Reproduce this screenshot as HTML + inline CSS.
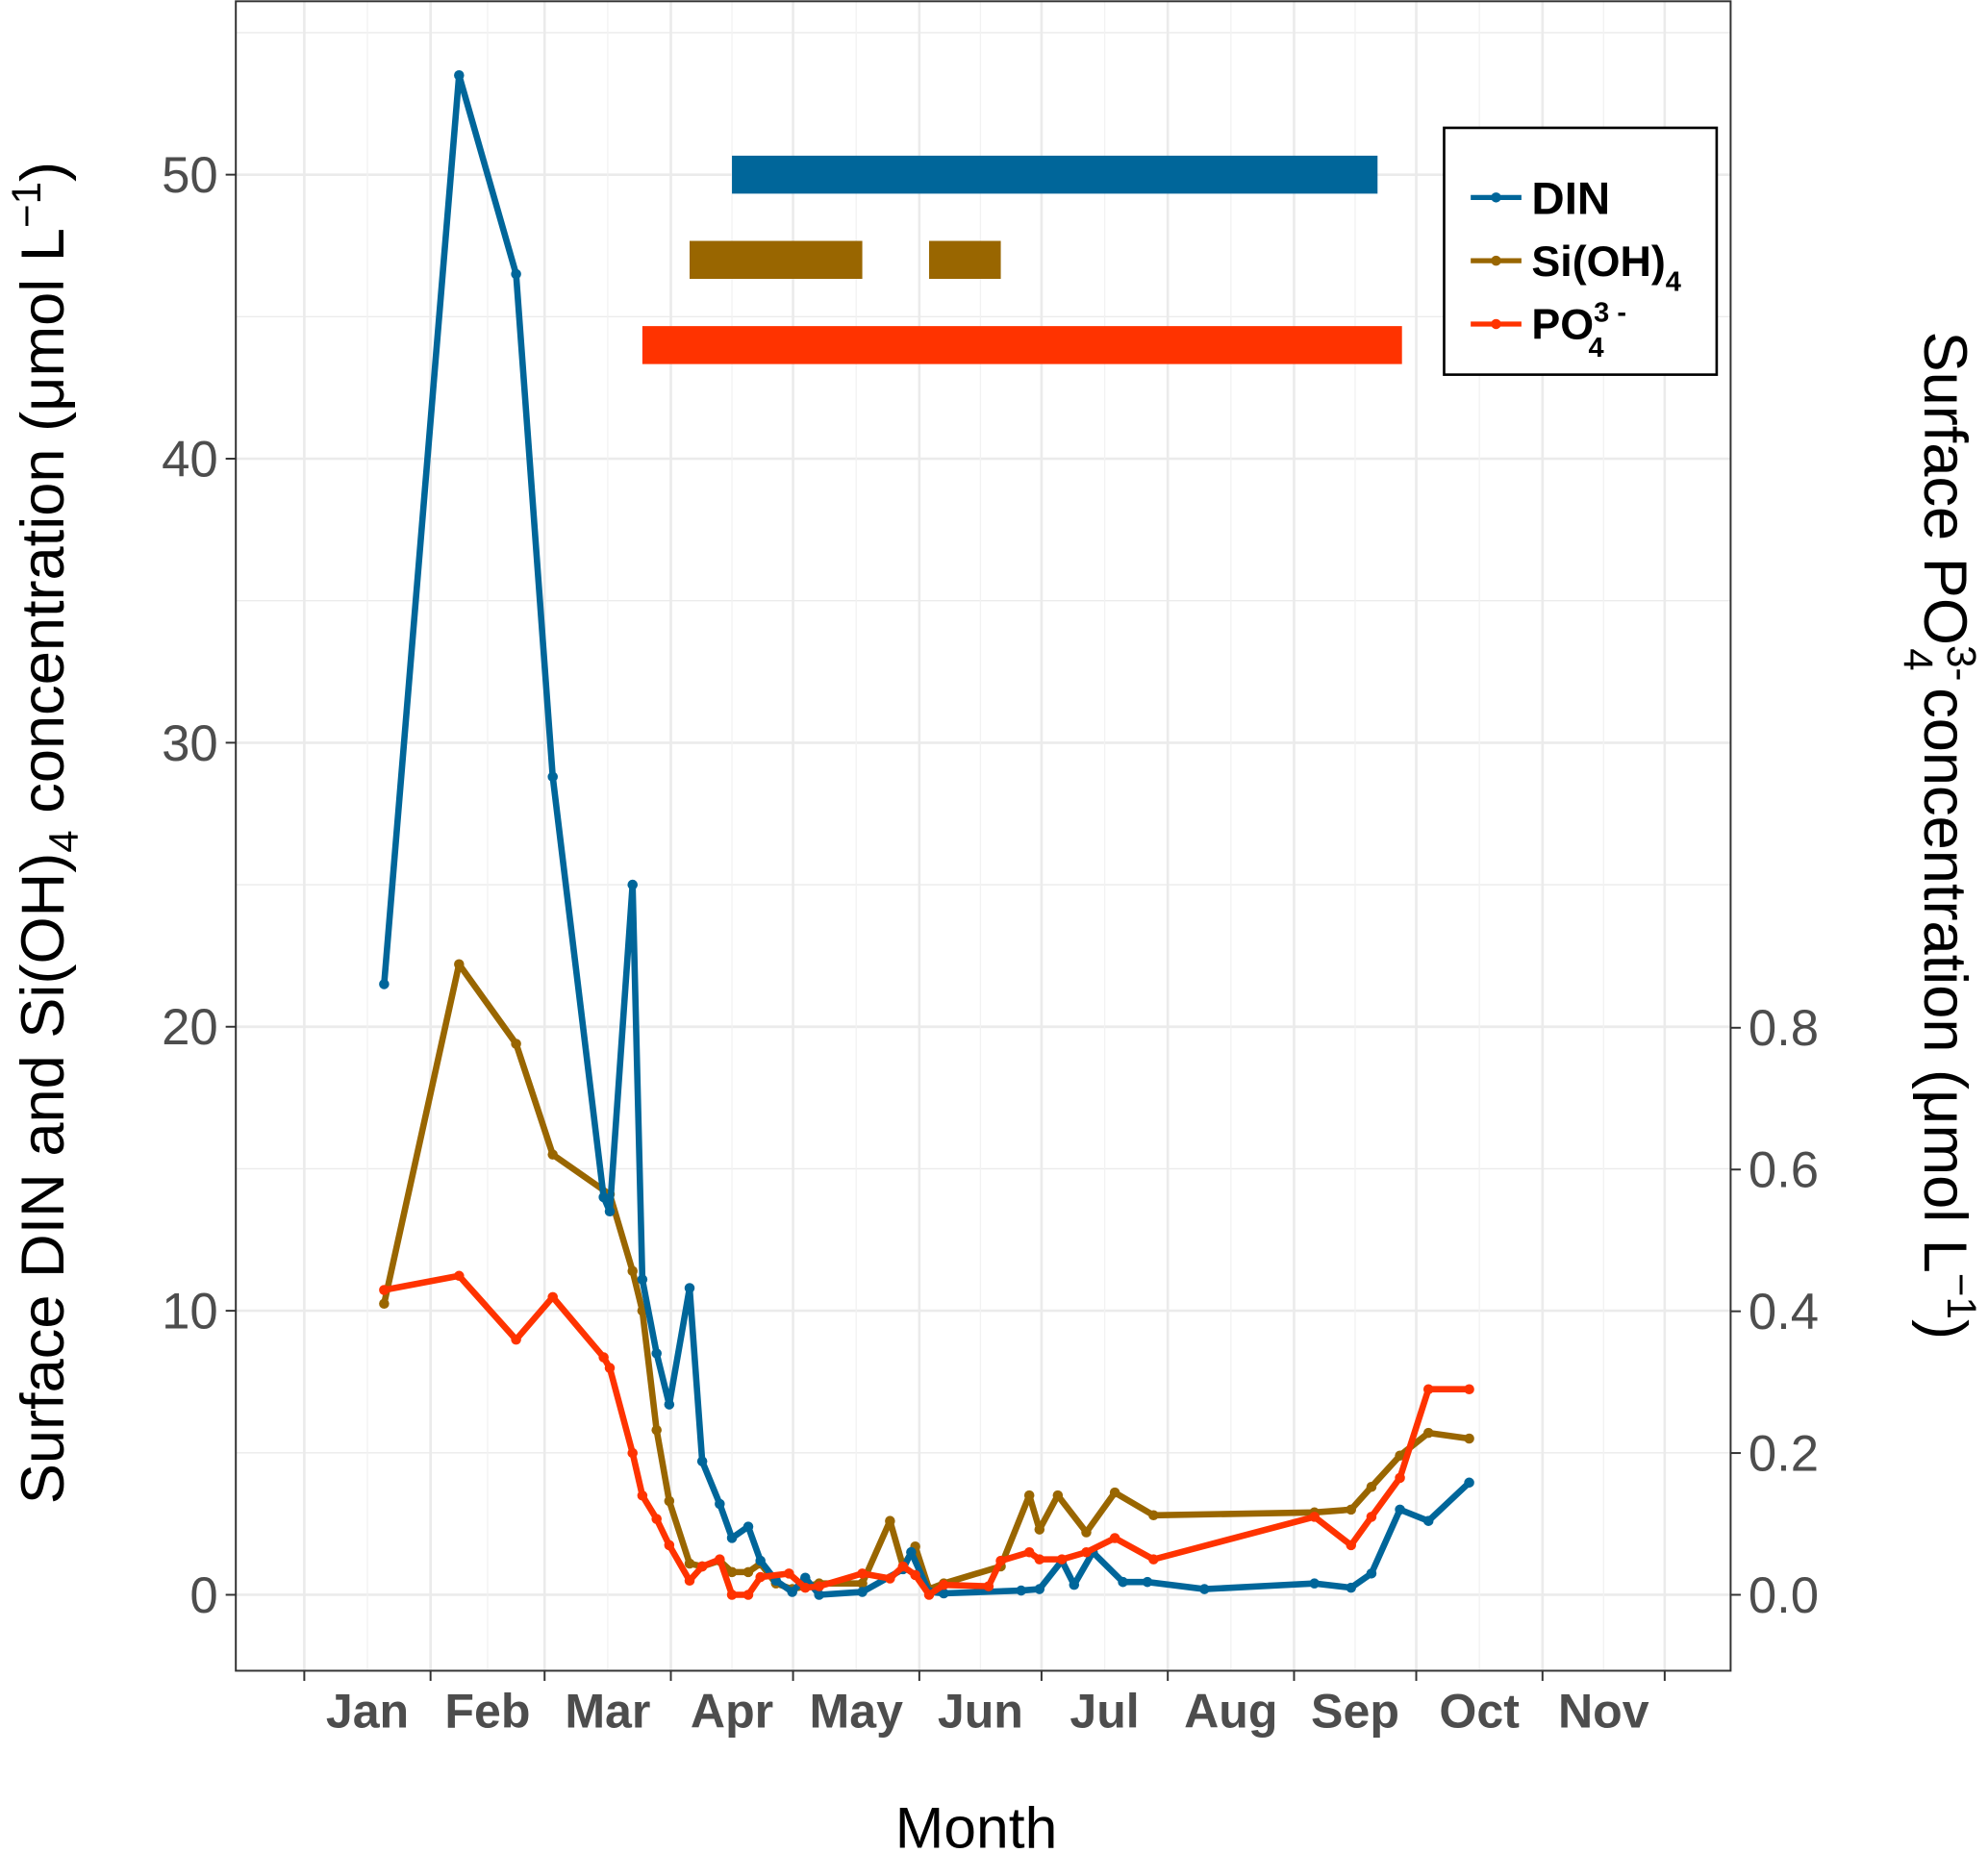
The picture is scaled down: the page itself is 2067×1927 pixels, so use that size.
<!DOCTYPE html>
<html><head><meta charset="utf-8"><style>
html,body{margin:0;padding:0;background:#fff}
svg{display:block}
text{font-family:"Liberation Sans",sans-serif}
</style></head><body>
<svg id="chart" width="2067" height="1927" viewBox="0 0 1568 1464" preserveAspectRatio="none" xmlns="http://www.w3.org/2000/svg">
<g id="grid"></g>
<g id="bars"></g>
<g id="series"></g>
<rect x="186" y="1" width="1179" height="1319" fill="none" stroke="#333" stroke-width="1.5"/>
<g id="axes"></g>
<text x="770" y="1460" font-size="46" text-anchor="middle">Month</text>
<text transform="translate(50,658) rotate(-90)" font-size="48" text-anchor="middle">Surface DIN and Si(OH)<tspan font-size="32" dy="11">4</tspan><tspan dy="-11"> concentration (μmol L</tspan><tspan font-size="32" dy="-18">−1</tspan><tspan dy="18">)</tspan></text>
<text transform="translate(1518,660) rotate(90)" font-size="48" text-anchor="middle">Surface PO<tspan font-size="32" dy="-18">3-</tspan><tspan font-size="32" dx="-26" dy="34">4</tspan><tspan dy="-16"> concentration (μmol L</tspan><tspan font-size="32" dy="-18">−1</tspan><tspan dy="18">)</tspan></text>
<g>
<rect x="1139" y="101" width="215" height="195" fill="#fff" stroke="#000" stroke-width="2"/>
<g><line x1="1160" y1="156" x2="1200" y2="156" stroke="#00669A" stroke-width="4"/><circle cx="1180" cy="156" r="4" fill="#00669A"/><text x="1208" y="169" font-size="36" font-weight="bold">DIN</text></g>
<g><line x1="1160" y1="206" x2="1200" y2="206" stroke="#996600" stroke-width="4"/><circle cx="1180" cy="206" r="4" fill="#996600"/><text x="1208" y="218" font-size="34" font-weight="600">Si(OH)<tspan font-size="22" dy="12">4</tspan></text></g>
<g><line x1="1160" y1="256" x2="1200" y2="256" stroke="#FF3300" stroke-width="4"/><circle cx="1180" cy="256" r="4" fill="#FF3300"/><text x="1208" y="268" font-size="34" font-weight="600">PO<tspan font-size="22" dy="-14">3 -</tspan><tspan font-size="22" dx="-30" dy="28">4</tspan></text></g>
</g>
</svg>
<script>
// ---- data ----
const months = ["Jan","Feb","Mar","Apr","May","Jun","Jul","Aug","Sep","Oct","Nov"];
const monthStartDoy = [1,32,60,91,121,152,182,213,244,274,305,335];
const leftTicks = [0,10,20,30,40,50];
const rightTicks = [0.0,0.2,0.4,0.6,0.8];
const dinDoy = [20.6,39,53,62,74.5,76,81.6,84,87.5,90.6,95.6,98.7,103,106,110,113,116.8,120.8,124,127.4,138,148,150,154.4,158,177,181.5,187,190,194.6,202,208,222,249,258,263,270,277,287];
const dinVal = [21.5,53.5,46.5,28.8,14.0,13.5,25.0,11.1,8.5,6.7,10.8,4.7,3.2,2.0,2.4,1.2,0.5,0.1,0.6,0.0,0.1,0.9,1.5,0.1,0.05,0.15,0.2,1.2,0.35,1.5,0.45,0.45,0.2,0.4,0.25,0.75,3.0,2.6,3.95];
const siDoy = [20.6,39,53,62,76,81.6,84,87.5,90.6,95.6,98.7,103,106,110,113,116.8,120.8,127.4,138,144.8,148,151,154.4,158,172,179,181.5,186,193,200,209.5,249,258,263,270,277,287];
const siVal = [10.25,22.2,19.4,15.5,14.1,11.4,10.0,5.8,3.3,1.1,1.0,1.2,0.8,0.8,1.1,0.4,0.2,0.4,0.4,2.6,1.0,1.7,0.2,0.4,1.0,3.5,2.3,3.5,2.2,3.6,2.8,2.9,3.0,3.8,4.9,5.7,5.5];
const poDoy = [20.6,39,53,62,74.5,76,81.6,84,87.5,90.6,95.6,98.7,103,106,110,113,120,124,127.4,138,144.8,148,151,154.4,158,169,172,179,181.5,187,193,200,209.5,249,258,263,270,277,287];
const poVal = [0.43,0.45,0.36,0.42,0.335,0.32,0.20,0.14,0.107,0.07,0.02,0.04,0.05,0.0,0.0,0.025,0.03,0.01,0.012,0.03,0.023,0.04,0.028,0.0,0.014,0.012,0.048,0.06,0.05,0.05,0.06,0.08,0.05,0.11,0.07,0.11,0.165,0.29,0.29];
const barNames = ["din","si","si","po4"];
const barStart = [106,95.6,154.4,84];
const barEnd = [264.5,138,172,270.5];
const barLevel = [50,47,47,44];
// ---- scales ----
const NS="http://www.w3.org/2000/svg";
const X0=240, PXDAY=(1313-240)/334;
const xs = d => X0 + (d-1)*PXDAY;
const yL = v => 1260 - v*22.44;
const yR = v => 1260 - v*560;
function mk(tag, attrs, parent){const e=document.createElementNS(NS,tag);for(const k in attrs)e.setAttribute(k,attrs[k]);parent.appendChild(e);return e;}
const grid=document.getElementById('grid'), axes=document.getElementById('axes'), bars=document.getElementById('bars'), series=document.getElementById('series');
for(let v=0; v<=55; v+=5){
  const g=mk('line',{x1:186,x2:1365,y1:yL(v),y2:yL(v),stroke:'#ebebeb','stroke-width':v%10===0?2:1},grid);
  
  
}
for(let i=0;i<monthStartDoy.length;i++){
  const x=xs(monthStartDoy[i]);
  const g=mk('line',{x1:x,x2:x,y1:1,y2:1320,stroke:'#ebebeb','stroke-width':2},grid);
  
  
  if(i<monthStartDoy.length-1){
    const xm=(x+xs(monthStartDoy[i+1]))/2;
    const m=mk('line',{x1:xm,x2:xm,y1:1,y2:1320,stroke:'#f2f2f2','stroke-width':1},grid);
    
    
  }
}
const barColor={din:'#00669A',si:'#996600',po4:'#FF3300'};
for(let i=0;i<barNames.length;i++){
  const y=yL(barLevel[i]);
  const r=mk('rect',{x:xs(barStart[i]),y:y-15,width:xs(barEnd[i])-xs(barStart[i]),height:30,fill:barColor[barNames[i]]},bars);
  
  
}
function drawSeries(dx,vals,ys,color,name){
  const pts=dx.map((d,i)=>xs(d)+','+ys(vals[i])).join(' ');
  const p=mk('polyline',{points:pts,fill:'none',stroke:color,'stroke-width':5,'stroke-linejoin':'round'},series);
  
  
  dx.forEach((d,i)=>{
    const c=mk('circle',{cx:xs(d),cy:ys(vals[i]),r:4,fill:color},series);
    
    
  });
}
drawSeries(siDoy,siVal,yL,'#996600','sioh4');
drawSeries(dinDoy,dinVal,yL,'#00669A','din');
drawSeries(poDoy,poVal,yR,'#FF3300','po4');
leftTicks.forEach(v=>{
  const t=mk('line',{x1:178,x2:186,y1:yL(v),y2:yL(v),stroke:'#333','stroke-width':1.5},axes);
  
  
  const l=mk('text',{x:172,y:yL(v)+14,'font-size':40,fill:'#4d4d4d','text-anchor':'end'},axes);
  l.textContent=v;
  
  
});
rightTicks.forEach(v=>{
  const t=mk('line',{x1:1365,x2:1373,y1:yR(v),y2:yR(v),stroke:'#333','stroke-width':1.5},axes);
  
  
  const l=mk('text',{x:1379,y:yR(v)+14,'font-size':40,fill:'#4d4d4d'},axes);
  l.textContent=v.toFixed(1);
  
  
});
monthStartDoy.forEach(d=>{
  const t=mk('line',{x1:xs(d),x2:xs(d),y1:1320,y2:1328,stroke:'#333','stroke-width':1.5},axes);
  
  
});
months.forEach((m,i)=>{
  const xm=(xs(monthStartDoy[i])+xs(monthStartDoy[i+1]))/2;
  const l=mk('text',{x:xm,y:1365,'font-size':38,'font-weight':'bold',fill:'#4d4d4d','text-anchor':'middle'},axes);
  l.textContent=m;
  
  
});
</script>
</body></html>
